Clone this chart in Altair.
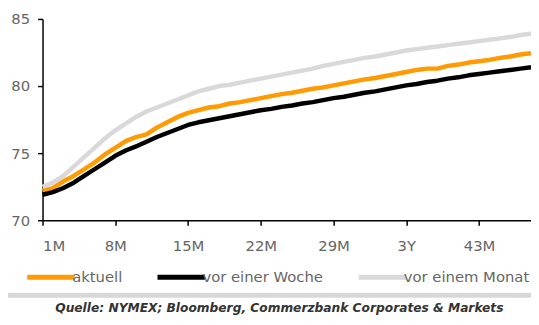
import altair as alt
import pandas as pd

months = list(range(1, 49))
aktuell = [72.2, 72.4, 72.9, 73.3, 73.8, 74.3, 74.9, 75.4, 75.9, 76.2, 76.4, 76.9,
           77.3, 77.7, 78.0, 78.2, 78.4, 78.5, 78.7, 78.8, 78.95, 79.1, 79.25, 79.4,
           79.5, 79.65, 79.8, 79.9, 80.05, 80.2, 80.35, 80.5, 80.6, 80.75, 80.9, 81.05,
           81.2, 81.3, 81.3, 81.5, 81.6, 81.75, 81.85, 81.95, 82.1, 82.2, 82.35, 82.45]
woche = [71.9, 72.1, 72.4, 72.8, 73.3, 73.8, 74.3, 74.8, 75.2, 75.5, 75.85, 76.2,
         76.5, 76.8, 77.1, 77.3, 77.45, 77.6, 77.75, 77.9, 78.05, 78.2, 78.3, 78.45,
         78.55, 78.7, 78.8, 78.95, 79.1, 79.2, 79.35, 79.5, 79.6, 79.75, 79.9, 80.05,
         80.15, 80.3, 80.4, 80.55, 80.65, 80.8, 80.9, 81.0, 81.1, 81.2, 81.3, 81.4]
monat = [72.5, 72.8, 73.3, 74.0, 74.7, 75.4, 76.1, 76.7, 77.2, 77.7, 78.1, 78.4,
         78.7, 79.0, 79.3, 79.6, 79.8, 80.0, 80.1, 80.25, 80.4, 80.55, 80.7, 80.85,
         81.0, 81.15, 81.3, 81.5, 81.65, 81.8, 81.95, 82.1, 82.2, 82.35, 82.5, 82.65,
         82.75, 82.85, 82.95, 83.05, 83.15, 83.25, 83.35, 83.45, 83.55, 83.65, 83.8, 83.9]

series_names = ["aktuell", "vor einer Woche", "vor einem Monat"]
series_colors = ["#FF9A00", "#000000", "#D9D9D9"]
x_ticks = [1, 8, 15, 22, 29, 36, 43]
y_ticks = [70, 75, 80, 85]
source = "Quelle: NYMEX; Bloomberg, Commerzbank Corporates & Markets"

rows = []
for name, vals in zip(series_names, [aktuell, woche, monat]):
    for m, v in zip(months, vals):
        rows.append({"Monat": m, "Wert": v, "Serie": name})
df = pd.DataFrame(rows)

font = "DejaVu Sans"

lines = alt.Chart(df).mark_line(strokeWidth=4.5, strokeJoin="round").encode(
    x=alt.X("Monat:Q", scale=alt.Scale(domain=[1, 48], nice=False, zero=False),
            axis=alt.Axis(values=x_ticks, title=None, grid=False,
                          labelExpr="datum.value == 36 ? '3Y' : datum.value + 'M'",
                          tickSize=5, labelPadding=14)),
    y=alt.Y("Wert:Q", scale=alt.Scale(domain=[70, 85], nice=False, zero=False),
            axis=alt.Axis(values=y_ticks, title=None, grid=False, tickSize=5, labelPadding=8)),
    color=alt.Color("Serie:N", scale=alt.Scale(domain=series_names, range=series_colors),
                    sort=series_names,
                    legend=alt.Legend(title=None, orient="none", direction="horizontal",
                                      legendX=-18, legendY=235, symbolType="stroke",
                                      symbolSize=2304, symbolStrokeWidth=5,
                                      labelOffset={"expr": "-5"}, columnPadding=25,
                                      labelFontSize=15, labelColor="#666666",
                                      labelFont=font)),
    detail="Serie:N",
)

rule = alt.Chart(pd.DataFrame({"k": [0]})).mark_rule(color="#D8D8D8", strokeWidth=5).encode(
    x=alt.value(-35), x2=alt.value(496), y=alt.value(280)
)

src = alt.Chart(pd.DataFrame({"t": [source]})).mark_text(
    font=font, fontSize=12.4, fontStyle="italic", fontWeight="bold", color="#333333",
    align="center", baseline="middle"
).encode(x=alt.value(240), y=alt.value(293), text="t:N")

chart = alt.layer(lines, rule, src).properties(
    width=495, height=204,
    autosize=alt.AutoSizeParams(type="none"),
    padding={"left": 35, "top": 9, "right": 0, "bottom": 99},
).configure_view(stroke=None).configure_axis(
    domainColor="#000000", domainWidth=1.5, tickColor="#000000", tickWidth=1.5,
    labelFont=font, labelFontSize=15, labelColor="#666666",
)

chart.save("out.html", embed_options={"renderer": "svg", "actions": False})
